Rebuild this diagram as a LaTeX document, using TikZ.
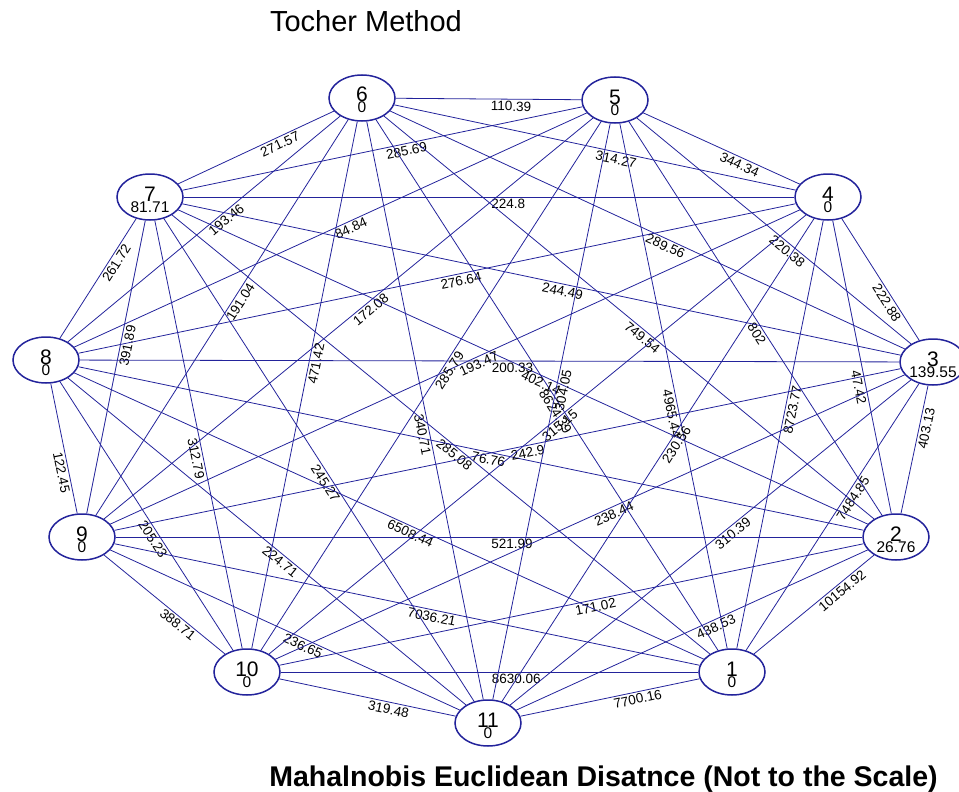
\documentclass[tikz,border=0pt]{standalone}
\usepackage{fontspec}
\setmainfont{Liberation Sans}
\usetikzlibrary{shapes.geometric}
\definecolor{edgeblue}{RGB}{35,35,155}
\newcommand\vtxt[2]{\raisebox{-4pt}{\makebox[0pt]{\fontsize{21}{21}\selectfont #1}}\raisebox{-15pt}{\makebox[0pt]{\fontsize{15.5}{15.5}\selectfont #2}}}
\begin{document}
\begin{tikzpicture}[x=1pt,y=-1pt,
  vtx/.style={ellipse, draw=edgeblue, line width=1.5pt, fill=white, minimum width=66pt, minimum height=46pt, inner sep=0pt, text height=0pt, text depth=0pt},
  conn/.style={draw=edgeblue, line width=0.8pt},
  elab/.style={sloped, pos=0.5, anchor=north west, inner sep=2pt, font=\fontsize{13.5}{13.5}\selectfont},
  ttl/.style={inner sep=0pt, anchor=base}]
\useasboundingbox (0,0) rectangle (959,792);
\node[vtx] (n1) at (732,672) {\vtxt{1}{0}};
\node[vtx] (n2) at (896,537) {\vtxt{2}{26.76}};
\node[vtx] (n3) at (933,362) {\vtxt{3}{139.55}};
\node[vtx] (n4) at (828,197) {\vtxt{4}{0}};
\node[vtx] (n5) at (615,100) {\vtxt{5}{0}};
\node[vtx] (n6) at (362,98) {\vtxt{6}{0}};
\node[vtx] (n7) at (150,197) {\vtxt{7}{81.71}};
\node[vtx] (n8) at (46,360) {\vtxt{8}{0}};
\node[vtx] (n9) at (82,537) {\vtxt{9}{0}};
\node[vtx] (n10) at (247,672) {\vtxt{10}{0}};
\node[vtx] (n11) at (488,723) {\vtxt{11}{0}};
% sides
\draw[conn] (n1) -- node[elab]{10154.92} (n2);
\draw[conn] (n2) -- node[elab]{403.13} (n3);
\draw[conn] (n3) -- node[elab]{222.88} (n4);
\draw[conn] (n4) -- node[elab]{344.34} (n5);
\draw[conn] (n5) -- node[elab]{110.39} (n6);
\draw[conn] (n6) -- node[elab]{271.57} (n7);
\draw[conn] (n7) -- node[elab]{261.72} (n8);
\draw[conn] (n8) -- node[elab]{122.45} (n9);
\draw[conn] (n9) -- node[elab]{388.71} (n10);
\draw[conn] (n10) -- node[elab]{319.48} (n11);
\draw[conn] (n11) -- node[elab]{7700.16} (n1);
% skip 2
\draw[conn] (n1) -- node[elab]{7484.85} (n3);
\draw[conn] (n2) -- node[elab]{47.42} (n4);
\draw[conn] (n3) -- node[elab]{220.38} (n5);
\draw[conn] (n4) -- node[elab]{314.27} (n6);
\draw[conn] (n5) -- node[elab]{285.69} (n7);
\draw[conn] (n6) -- node[elab]{193.46} (n8);
\draw[conn] (n7) -- node[elab]{391.89} (n9);
\draw[conn] (n8) -- node[elab]{205.23} (n10);
\draw[conn] (n9) -- node[elab]{236.65} (n11);
\draw[conn] (n10) -- node[elab]{8630.06} (n1);
\draw[conn] (n11) -- node[elab]{438.53} (n2);
% skip 3
\draw[conn] (n1) -- node[elab]{8723.77} (n4);
\draw[conn] (n2) -- node[elab]{802} (n5);
\draw[conn] (n3) -- node[elab]{289.56} (n6);
\draw[conn] (n4) -- node[elab]{224.8} (n7);
\draw[conn] (n5) -- node[elab]{84.84} (n8);
\draw[conn] (n6) -- node[elab]{191.04} (n9);
\draw[conn] (n7) -- node[elab]{312.79} (n10);
\draw[conn] (n8) -- node[elab]{224.71} (n11);
\draw[conn] (n9) -- node[elab]{7036.21} (n1);
\draw[conn] (n10) -- node[elab]{171.02} (n2);
\draw[conn] (n11) -- node[elab]{310.39} (n3);
% skip 4
\draw[conn] (n1) -- node[elab]{4965.44} (n5);
\draw[conn] (n2) -- node[elab]{749.54} (n6);
\draw[conn] (n3) -- node[elab]{244.49} (n7);
\draw[conn] (n4) -- node[elab]{276.64} (n8);
\draw[conn] (n5) -- node[elab]{172.08} (n9);
\draw[conn] (n6) -- node[elab]{471.42} (n10);
\draw[conn] (n7) -- node[elab]{245.27} (n11);
\draw[conn] (n8) -- node[elab]{6508.44} (n1);
\draw[conn] (n9) -- node[elab]{521.99} (n2);
\draw[conn] (n10) -- node[elab]{238.44} (n3);
\draw[conn] (n11) -- node[elab]{230.56} (n4);
% skip 5
\draw[conn] (n1) -- node[elab]{8624.39} (n6);
\draw[conn] (n2) -- node[elab]{402.14} (n7);
\draw[conn] (n3) -- node[elab]{200.33} (n8);
\draw[conn] (n4) -- node[elab]{193.47} (n9);
\draw[conn] (n5) -- node[elab]{285.79} (n10);
\draw[conn] (n6) -- node[elab]{340.71} (n11);
\draw[conn] (n7) -- node[elab]{285.08} (n1);
\draw[conn] (n8) -- node[elab]{76.76} (n2);
\draw[conn] (n9) -- node[elab]{242.9} (n3);
\draw[conn] (n10) -- node[elab]{315.15} (n4);
\draw[conn] (n11) -- node[elab]{304.05} (n5);
% titles
\node[ttl, font=\fontsize{29}{29}\selectfont] (title) at (366,32) {Tocher Method};
\node[ttl, font=\fontsize{28.5}{28.5}\selectfont\bfseries] (caption) at (603.5,786) {Mahalnobis Euclidean Disatnce (Not to the Scale)};
\end{tikzpicture}
\end{document}
